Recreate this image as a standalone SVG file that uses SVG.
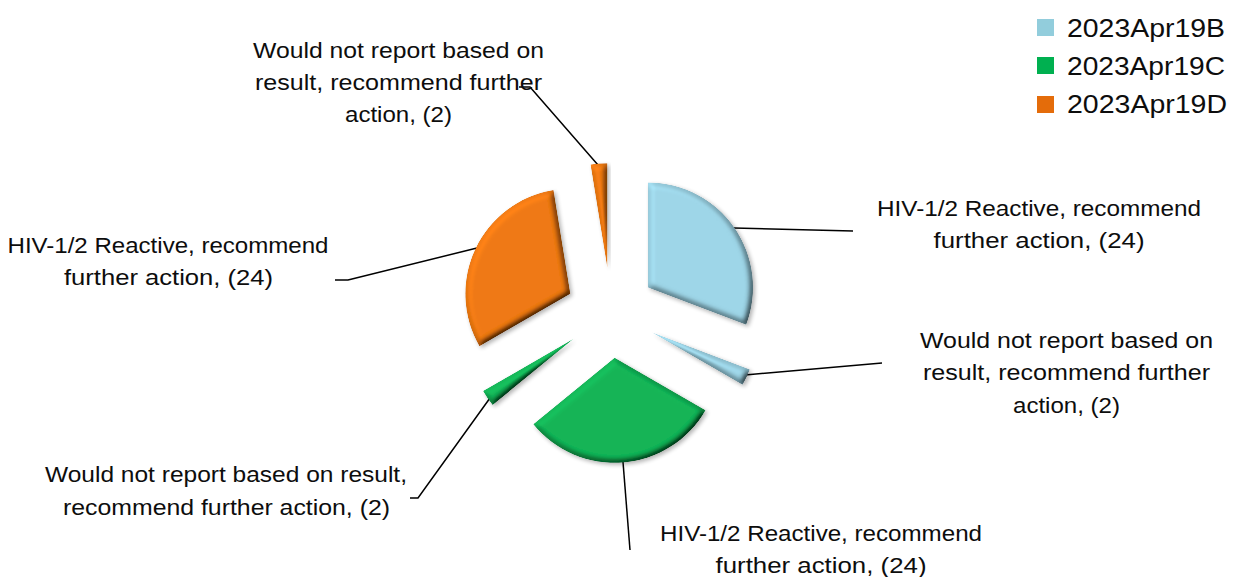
<svg xmlns="http://www.w3.org/2000/svg" width="1237" height="577" viewBox="0 0 1237 577">
<style>
  text { font-family: "Liberation Sans", Arial, sans-serif; fill: #0d0d0d; }
  .lbl { font-size: 22px; text-anchor: middle; }
  .leg { font-size: 26px; }
  .lead { fill: none; stroke: #000; stroke-width: 1.5; }
  .slice { filter: url(#bevel); }
  .blue { fill: #9ED6E8; }
  .green { fill: #12B557; }
  .orange { fill: #F07A12; }
</style>
<defs>
  <filter id="bevel" x="-20%" y="-20%" width="140%" height="140%">
    <feGaussianBlur in="SourceAlpha" stdDeviation="3" result="blur"/>
    <feDiffuseLighting in="blur" surfaceScale="6" diffuseConstant="1" lighting-color="#ffffff" result="light">
      <feDistantLight azimuth="225" elevation="60"/>
    </feDiffuseLighting>
    <feComposite in="SourceGraphic" in2="light" operator="arithmetic" k1="1.15" k2="0" k3="0" k4="0" result="lit"/>
    <feComposite in="lit" in2="SourceAlpha" operator="in" result="litIn"/>
    <feGaussianBlur in="SourceAlpha" stdDeviation="2" result="sb"/>
    <feOffset in="sb" dx="2" dy="2" result="so"/>
    <feComponentTransfer in="so" result="shadow">
      <feFuncA type="linear" slope="0.3"/>
    </feComponentTransfer>
    <feMerge>
      <feMergeNode in="shadow"/>
      <feMergeNode in="litIn"/>
    </feMerge>
  </filter>
</defs>
<rect width="1237" height="577" fill="#ffffff"/>

<g id="connectors">
  <polyline class="lead" points="734,228 853,231"/>
  <polyline class="lead" points="745,375 882,363"/>
  <polyline class="lead" points="623,462 630,550"/>
  <polyline class="lead" points="490,398 418,498 410,498"/>
  <polyline class="lead" points="477,248 348,280 335,280"/>
  <polyline class="lead" points="598,165 530,87 519,87"/>
</g>

<g id="slice-b-reactive">
  <path class="slice blue" d="M648.04,287.44 L648.04,182.44 A105,105 0 0 1 746.22,324.67 Z"/>
</g>
<g id="slice-b-wouldnot">
  <path class="slice blue" d="M651.65,332.29 L749.83,369.52 A105,105 0 0 1 742.58,384.79 Z"/>
</g>
<g id="slice-c-reactive">
  <path class="slice green" d="M614.62,357.85 L705.55,410.35 A105,105 0 0 1 533.30,424.26 Z"/>
</g>
<g id="slice-c-wouldnot">
  <path class="slice green" d="M573.97,338.56 L492.65,404.97 A105,105 0 0 1 483.04,391.06 Z"/>
</g>
<g id="slice-d-reactive">
  <path class="slice orange" d="M570.35,293.71 L479.42,346.21 A105,105 0 0 1 553.51,190.06 Z"/>
</g>
<g id="slice-d-wouldnot">
  <path class="slice orange" d="M607.38,268.14 L590.54,164.49 A105,105 0 0 1 607.38,163.14 Z"/>
</g>

<g id="label-b-reactive">
  <text class="lbl" x="1039" y="216" textLength="324" lengthAdjust="spacingAndGlyphs">HIV-1/2 Reactive, recommend</text>
  <text class="lbl" x="1039" y="248" textLength="211" lengthAdjust="spacingAndGlyphs">further action, (24)</text>
</g>
<g id="label-b-wouldnot">
  <text class="lbl" x="1066.5" y="348" textLength="293" lengthAdjust="spacingAndGlyphs">Would not report based on</text>
  <text class="lbl" x="1066.5" y="380" textLength="287" lengthAdjust="spacingAndGlyphs">result, recommend further</text>
  <text class="lbl" x="1066.5" y="413" textLength="107" lengthAdjust="spacingAndGlyphs">action, (2)</text>
</g>
<g id="label-c-reactive">
  <text class="lbl" x="821" y="541" textLength="322" lengthAdjust="spacingAndGlyphs">HIV-1/2 Reactive, recommend</text>
  <text class="lbl" x="821" y="573" textLength="211" lengthAdjust="spacingAndGlyphs">further action, (24)</text>
</g>
<g id="label-c-wouldnot">
  <text class="lbl" x="226" y="482" textLength="362" lengthAdjust="spacingAndGlyphs">Would not report based on result,</text>
  <text class="lbl" x="226.5" y="515" textLength="327" lengthAdjust="spacingAndGlyphs">recommend further action, (2)</text>
</g>
<g id="label-d-reactive">
  <text class="lbl" x="168" y="253" textLength="321" lengthAdjust="spacingAndGlyphs">HIV-1/2 Reactive, recommend</text>
  <text class="lbl" x="168.5" y="285" textLength="209" lengthAdjust="spacingAndGlyphs">further action, (24)</text>
</g>
<g id="label-d-wouldnot">
  <text class="lbl" x="398.5" y="58" textLength="291" lengthAdjust="spacingAndGlyphs">Would not report based on</text>
  <text class="lbl" x="398.5" y="90" textLength="287" lengthAdjust="spacingAndGlyphs">result, recommend further</text>
  <text class="lbl" x="398.5" y="122" textLength="107" lengthAdjust="spacingAndGlyphs">action, (2)</text>
</g>

<g id="legend">
  <rect x="1037" y="19" width="17" height="17" fill="#92CDDC"/>
  <text class="leg" x="1067" y="37" textLength="158" lengthAdjust="spacingAndGlyphs">2023Apr19B</text>
  <rect x="1037" y="57" width="17" height="17" fill="#00B050"/>
  <text class="leg" x="1067" y="75" textLength="158" lengthAdjust="spacingAndGlyphs">2023Apr19C</text>
  <rect x="1037" y="96" width="17" height="17" fill="#E46C0A"/>
  <text class="leg" x="1067" y="113" textLength="160" lengthAdjust="spacingAndGlyphs">2023Apr19D</text>
</g>
</svg>
